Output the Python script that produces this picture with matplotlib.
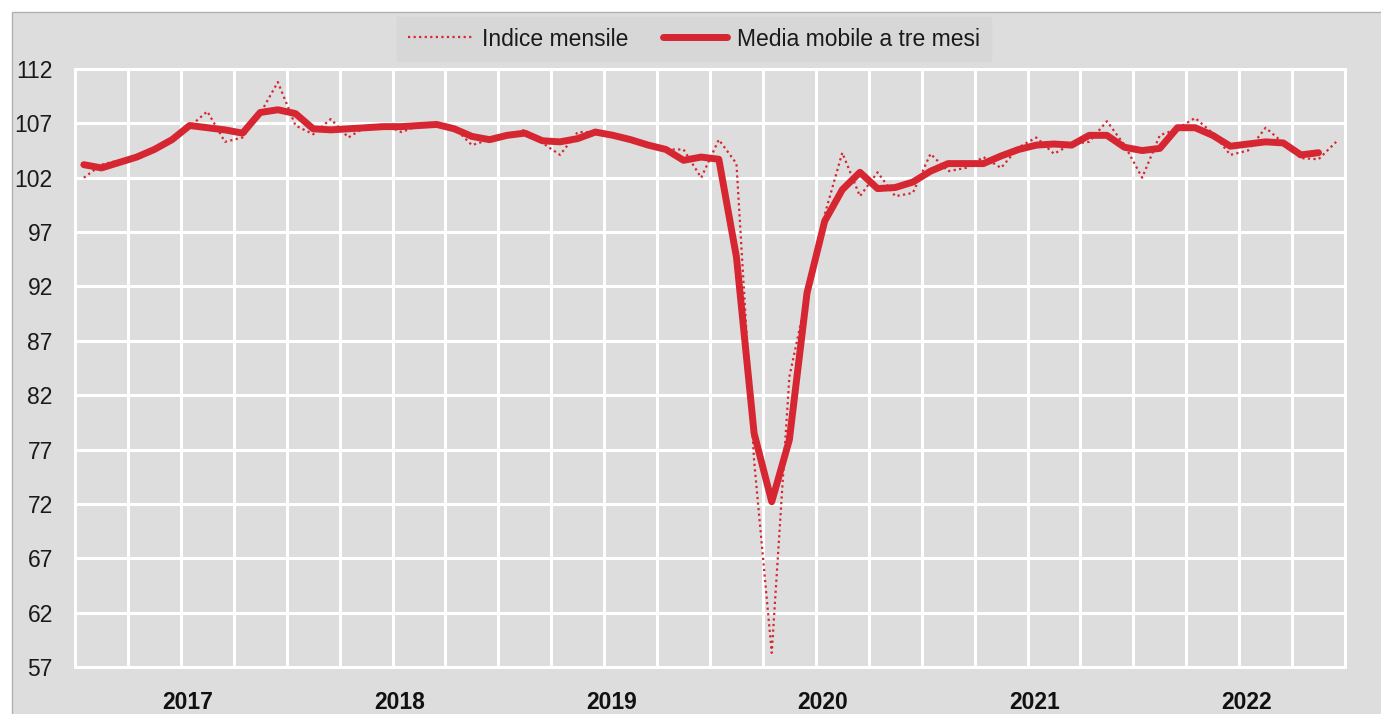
import numpy as np
import matplotlib
matplotlib.use("Agg")
import matplotlib.pyplot as plt
from matplotlib.patches import Rectangle

years = ["2017", "2018", "2019", "2020", "2021", "2022"]

indice_mensile = [
    102.0, 103.2, 103.6, 103.9, 104.6, 105.5, 106.7, 108.1, 105.3, 105.7, 107.9, 110.8,
    106.8, 106.0, 107.4, 105.7, 106.7, 106.9, 106.2, 106.8, 107.0, 106.6, 105.0, 105.5,
    105.9, 106.4, 105.2, 104.1, 106.2, 106.2, 106.0, 105.5, 105.0, 104.6, 104.6, 102.0,
    105.5, 103.3, 76.0, 58.3, 83.7, 91.3, 98.6, 104.3, 100.3, 102.5, 100.3, 100.6,
    104.2, 102.6, 102.9, 103.9, 102.9, 104.8, 105.7, 104.2, 105.1, 105.3, 107.2, 105.0,
    102.0, 105.9, 106.5, 107.5, 106.1, 104.1, 104.5, 106.6, 105.2, 103.8, 103.7, 105.3,
]

media_mobile = [
    103.2, 102.9, 103.4, 103.9, 104.6, 105.5, 106.8, 106.6, 106.4, 106.1, 108.0, 108.25,
    107.9, 106.5, 106.4, 106.5, 106.6, 106.7, 106.7, 106.8, 106.9, 106.5, 105.8, 105.5,
    105.9, 106.1, 105.4, 105.3, 105.6, 106.2, 105.9, 105.5, 105.0, 104.6, 103.6, 103.9,
    103.7, 94.7, 78.5, 72.2, 77.9, 91.4, 98.0, 100.9, 102.5, 101.0, 101.1, 101.6,
    102.6, 103.3, 103.3, 103.3, 104.0, 104.6, 105.0, 105.1, 105.0, 105.9, 105.9, 104.8,
    104.5, 104.7, 106.6, 106.6, 105.9, 104.9, 105.1, 105.3, 105.2, 104.1, 104.3,
]

y_ticks = list(range(57, 113, 5))

RED = "#d52631"
BG = "#dddddd"
FONT = ["Liberation Sans", "DejaVu Sans"]
plt.rcParams["font.family"] = FONT
FS = 16.5

fig = plt.figure(figsize=(13.81, 7.14), dpi=100)
fig.patch.set_facecolor("white")
fig.patches.append(Rectangle((12 / 1381, -0.01), 1.02 - 12 / 1381, 1.01 - 12 / 714,
                             transform=fig.transFigure, facecolor=BG,
                             edgecolor="#b0b0b0", linewidth=1.0, zorder=-10))

ax = fig.add_axes([75 / 1381, 1 - 667 / 714, (1345 - 75) / 1381, (667 - 69) / 714])
ax.set_facecolor(BG)

x_m = np.arange(len(indice_mensile))
x_ma = np.arange(len(media_mobile))
l1, = ax.plot(x_m, indice_mensile, color=RED, linestyle=(0, (1, 1.5)), linewidth=1.6,
              label="Indice mensile", zorder=3)
l2, = ax.plot(x_ma, media_mobile, color=RED, linewidth=5.0, solid_capstyle="round",
              solid_joinstyle="round", label="Media mobile a tre mesi", zorder=4)

n = len(indice_mensile)
ax.set_xlim(-0.5, n - 0.5)
ax.set_ylim(57, 112)
ax.set_yticks(y_ticks)
ax.set_yticklabels([str(v) for v in y_ticks], fontsize=FS, color="#1a1a1a")
ax.set_xticks([5.9 + 12 * k for k in range(len(years))])
ax.set_xticklabels(years, fontsize=FS, fontweight="bold", color="#111111")
ax.set_xticks(np.arange(-0.5, n, 3), minor=True)
ax.tick_params(axis="both", which="both", length=0)
ax.tick_params(axis="y", pad=16)
ax.tick_params(axis="x", pad=17)

ax.grid(axis="y", which="major", color="white", linewidth=2.2)
ax.grid(axis="x", which="minor", color="white", linewidth=2.2)
ax.grid(axis="x", which="major", visible=False)
ax.set_axisbelow(True)
for s in ax.spines.values():
    s.set_color("white")
    s.set_linewidth(2.2)

leg = fig.legend(handles=[l1, l2], loc="center", bbox_to_anchor=(694 / 1381, 1 - 39 / 714),
                 ncol=2, frameon=True, fontsize=FS, handlelength=2.8, handletextpad=0.45,
                 columnspacing=1.5, borderpad=0.45, borderaxespad=0)
frame = leg.get_frame()
frame.set_facecolor("#d7d7d7")
frame.set_edgecolor("#d7d7d7")
frame.set_boxstyle("square", pad=0)
frame.set_alpha(1)
for t in leg.get_texts():
    t.set_color("#1a1a1a")

fig.savefig("out.png", dpi=100, facecolor=fig.get_facecolor())
